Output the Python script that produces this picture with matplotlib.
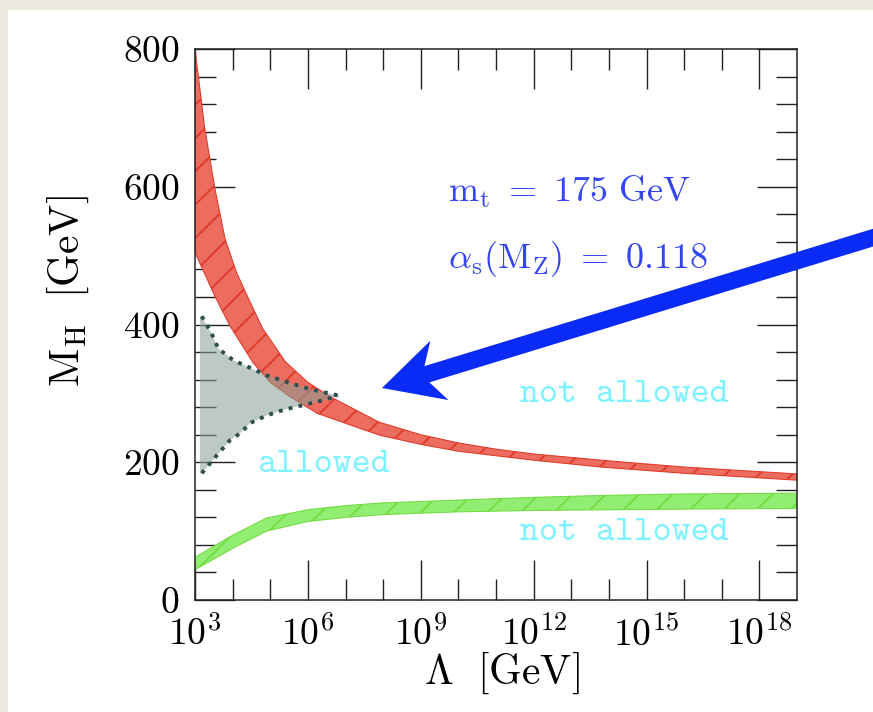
import numpy as np
import matplotlib
matplotlib.use("Agg")
import matplotlib.pyplot as plt
from matplotlib.patches import Rectangle, Polygon
from matplotlib.ticker import FixedLocator, FixedFormatter, MultipleLocator, NullFormatter

plt.rcParams['mathtext.fontset'] = 'cm'
plt.rcParams['font.family'] = ['cmr10', 'DejaVu Serif']
plt.rcParams['axes.unicode_minus'] = False
plt.rcParams['hatch.linewidth'] = 1.4

# ---- data (log10 of Lambda in GeV, M_H in GeV) ----
red_upper_logL = [3, 3.25, 3.53, 3.8, 4.1, 4.4, 4.8, 5.4, 6.0, 6.6, 7.9, 9, 10, 11, 12, 14, 16, 19]
red_upper_mh = [800, 688, 597, 524, 476, 440, 394, 346, 316, 295, 258, 240, 228, 219, 212, 202, 193, 183]
red_lower_logL = [3, 3.13, 3.53, 3.93, 4.55, 5.0, 5.53, 6.25, 7.5, 7.93, 9, 10, 12, 13.8, 16, 19]
red_lower_mh = [505, 489, 441, 398, 344, 316, 295, 271, 247, 239, 226, 216, 203, 193, 184, 174]

green_logL = [3, 4, 4.9, 6, 7, 8, 10, 12, 14, 16, 19]
green_upper_mh = [62, 94, 119, 131, 137, 141, 145, 149, 152, 154, 155]
green_lower_mh = [44, 75, 100, 114, 120, 124, 128, 130, 131, 132, 133]

allowed_upper_logL = [3.18, 3.44, 3.62, 4.02, 4.47, 4.91, 5.53, 6.07, 6.8]
allowed_upper_mh = [412, 387, 365, 348, 337, 326, 315, 306, 297]
allowed_lower_logL = [3.18, 3.58, 3.93, 4.2, 4.47, 4.91, 5.35, 5.88, 6.41, 6.8]
allowed_lower_mh = [184, 210, 232, 242, 257, 268, 276, 283, 290, 297]
allowed_left_logL = 3.13

x_major_exp = [3, 6, 9, 12, 15, 18]
x_minor_exp = [4, 5, 7, 8, 10, 11, 13, 14, 16, 17]
y_major = [0, 200, 400, 600, 800]

W, H = 873, 712
fig = plt.figure(figsize=(W / 100, H / 100), dpi=100, facecolor='#ebe8dd')
fig.add_artist(Rectangle((8 / W, 0), 1, (H - 10) / H, transform=fig.transFigure,
                         facecolor='white', edgecolor='none', zorder=-5))

ax = fig.add_axes([195 / W, (H - 600) / H, (797 - 195) / W, (600 - 49) / H])
ax.set_xscale('log')
ax.set_xlim(1e3, 1e19)
ax.set_ylim(0, 800)

def tenpow(a):
    return 10.0 ** np.asarray(a, dtype=float)

# allowed (grey) region
gx = np.concatenate([[tenpow(allowed_left_logL)], tenpow(allowed_upper_logL),
                     tenpow(allowed_lower_logL)[::-1], [tenpow(allowed_left_logL)]])
gy = np.concatenate([[allowed_upper_mh[0]], allowed_upper_mh,
                     allowed_lower_mh[::-1], [allowed_lower_mh[0]]])

# red band (upper bound)
rx = np.concatenate([tenpow(red_upper_logL), tenpow(red_lower_logL)[::-1]])
ry = np.concatenate([red_upper_mh, red_lower_mh[::-1]])
ax.fill(rx, ry, facecolor='#ec6d60', edgecolor='#e03c2b', linewidth=0.8, hatch='/', zorder=2)

# green band (lower bound)
gnx = np.concatenate([tenpow(green_logL), tenpow(green_logL)[::-1]])
gny = np.concatenate([green_upper_mh, green_lower_mh[::-1]])
ax.fill(gnx, gny, facecolor='#92ee72', edgecolor='#74dc44', linewidth=0.8, hatch='/', zorder=2)

ax.fill(gx, gy, facecolor='#879f94', edgecolor='none', alpha=0.55, zorder=3)
ax.plot(tenpow(allowed_upper_logL), allowed_upper_mh, color='#2f4f4f', lw=2.8,
        linestyle=(0, (1, 1.6)), zorder=4)
ax.plot(tenpow(allowed_lower_logL), allowed_lower_mh, color='#2f4f4f', lw=2.8,
        linestyle=(0, (1, 1.6)), zorder=4)

# texts
blue_txt = '#3346f0'
ax.text(10 ** 9.72, 578, r'$\mathrm{m_t}\ =\ 175\ \mathrm{GeV}$', color=blue_txt,
        fontsize=26, ha='left', va='baseline', zorder=5)
ax.text(10 ** 9.72, 482, r'$\alpha_\mathrm{s}(\mathrm{M_Z})\ =\ 0.118$', color=blue_txt,
        fontsize=26, ha='left', va='baseline', zorder=5)
cyan = '#80f2ff'
ax.text(10 ** 6.41, 196, 'allowed', family='cmtt10', color=cyan, fontsize=26,
        ha='center', va='center', zorder=5)
ax.text(10 ** 14.41, 297, 'not allowed', family='cmtt10', color=cyan, fontsize=26,
        ha='center', va='center', zorder=5)
ax.text(10 ** 14.41, 97, 'not allowed', family='cmtt10', color=cyan, fontsize=26,
        ha='center', va='center', zorder=5)

# ticks
ax.xaxis.set_major_locator(FixedLocator(tenpow(x_major_exp)))
ax.xaxis.set_major_formatter(FixedFormatter([r'$10^{%d}$' % e for e in x_major_exp]))
ax.xaxis.set_minor_locator(FixedLocator(tenpow(x_minor_exp)))
ax.xaxis.set_minor_formatter(NullFormatter())
ax.yaxis.set_major_locator(FixedLocator(y_major))
ax.yaxis.set_major_formatter(FixedFormatter([r'$%d$' % v for v in y_major]))
ax.yaxis.set_minor_locator(MultipleLocator(40))

ax.tick_params(which='both', direction='in', top=True, right=True, color='#222222', width=1.0)
ax.tick_params(which='major', length=29)
ax.tick_params(which='minor', length=15)
ax.tick_params(axis='x', which='major', labelsize=27, pad=11)
ax.tick_params(axis='y', which='major', labelsize=27, pad=11)
for s in ax.spines.values():
    s.set_linewidth(1.1)
    s.set_color('#222222')

ax.set_xlabel(r'$\Lambda\ \ [\mathrm{GeV}]$', fontsize=30)
ax.xaxis.set_label_coords(0.51, -0.133)
ax.xaxis.label.set_verticalalignment('center')
ax.set_ylabel(r'$\mathrm{M_H\ \ [GeV]}$', fontsize=30)
ax.yaxis.set_label_coords(-0.211, 0.561)
ax.yaxis.label.set_verticalalignment('center')

# blue arrow (figure pixel geometry -> figure fraction)
tip = np.array([382.0, 388.0])
tail = np.array([885.0, 234.0])
u = (tail - tip) / np.linalg.norm(tail - tip)
n = np.array([-u[1], u[0]])
hl, hw, nd, sw = 60.0, 31.0, 47.0, 8.5
pts = [tip, tip + hl * u + hw * n, tip + nd * u + sw * n, tail + sw * n,
       tail - sw * n, tip + nd * u - sw * n, tip + hl * u - hw * n]
verts = [(p[0] / W, (H - p[1]) / H) for p in pts]
fig.add_artist(Polygon(verts, closed=True, transform=fig.transFigure,
                       facecolor='#0a2af5', edgecolor='none', zorder=6))

fig.savefig('out.png', dpi=100, facecolor=fig.get_facecolor())
